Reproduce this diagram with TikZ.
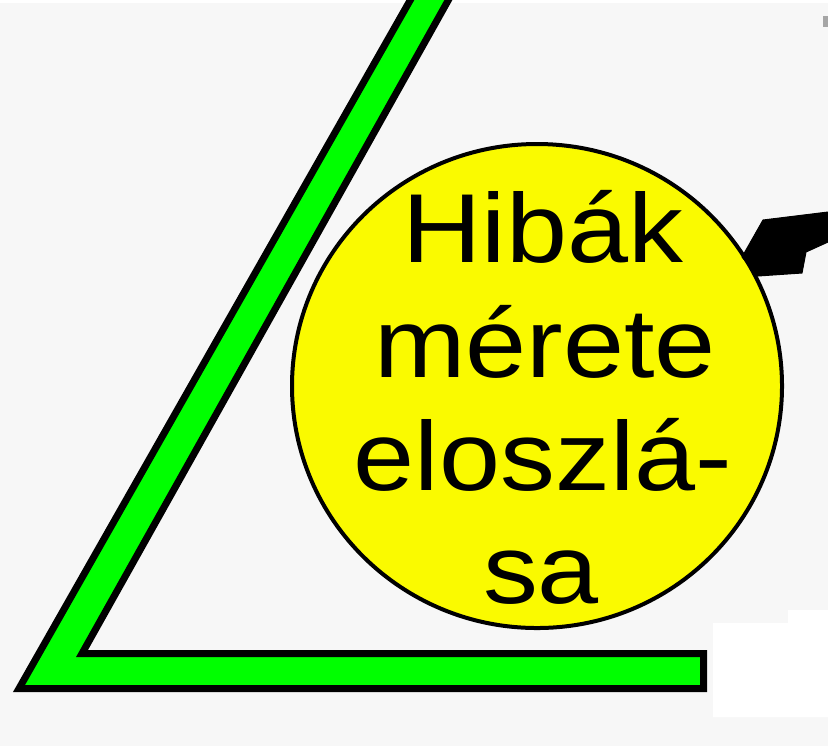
\documentclass[tikz,border=0pt]{standalone}
\usepackage{fontspec}
\setmainfont{Liberation Sans}
\usetikzlibrary{shapes.geometric}
\definecolor{bg}{HTML}{F7F7F7}
\definecolor{barg}{HTML}{00FF00}
\definecolor{circy}{HTML}{FAFA00}
\tikzset{
  bartrace/.style={fill=barg, draw=black, line width=3.5pt, line join=miter},
  bubble/.style={ellipse, fill=circy, draw=black, line width=2pt, minimum width=490pt*0.5, minimum height=484pt*0.5, inner sep=0pt},
  label/.style={anchor=base, inner sep=0pt, font=\fontsize{49}{56}\selectfont, text=black},
  pointer/.style={fill=black, draw=black, line width=0.5pt, line join=round}
}
\newcommand{\wide}[1]{\scalebox{1.12}[1]{#1}}
\begin{document}
\begin{tikzpicture}[x=0.5pt,y=-0.5pt]
  \useasboundingbox (0,0) rectangle (828,746);
  \fill[bg] (0,0) rectangle (828,746);
  \fill[white] (0,0) rectangle (828,3);
  \fill[white] (713,623) -- (788,623) -- (788,610) -- (828,610) -- (828,717) -- (713,717) -- cycle;
  \fill[gray!70] (823,16) rectangle (828,27);
  \begin{scope}
    \clip (0,0) rectangle (828,746);
    \draw[bartrace] (416,-10) -- (454,-10) -- (82,653.5) -- (703.5,653.5) -- (703.5,688.5) -- (19,688.5) -- cycle;
  \end{scope}
  \node[bubble] (circ) at (537,386) {};
  \node[label] (l1) at (543,262) {\wide{Hibák}};
  \node[label] (l2) at (545,377) {\wide{mérete}};
  \node[label] (l3) at (543,490) {\wide{eloszlá-}};
  \node[label] (l4) at (541,603) {\wide{sa}};
  \coordinate (tip) at (742,257);
  \fill[pointer] (tip) -- (763,220) -- (828,212) -- (828,242) -- (806,252) -- (802,273) -- (758,276) -- cycle;
\end{tikzpicture}
\end{document}
